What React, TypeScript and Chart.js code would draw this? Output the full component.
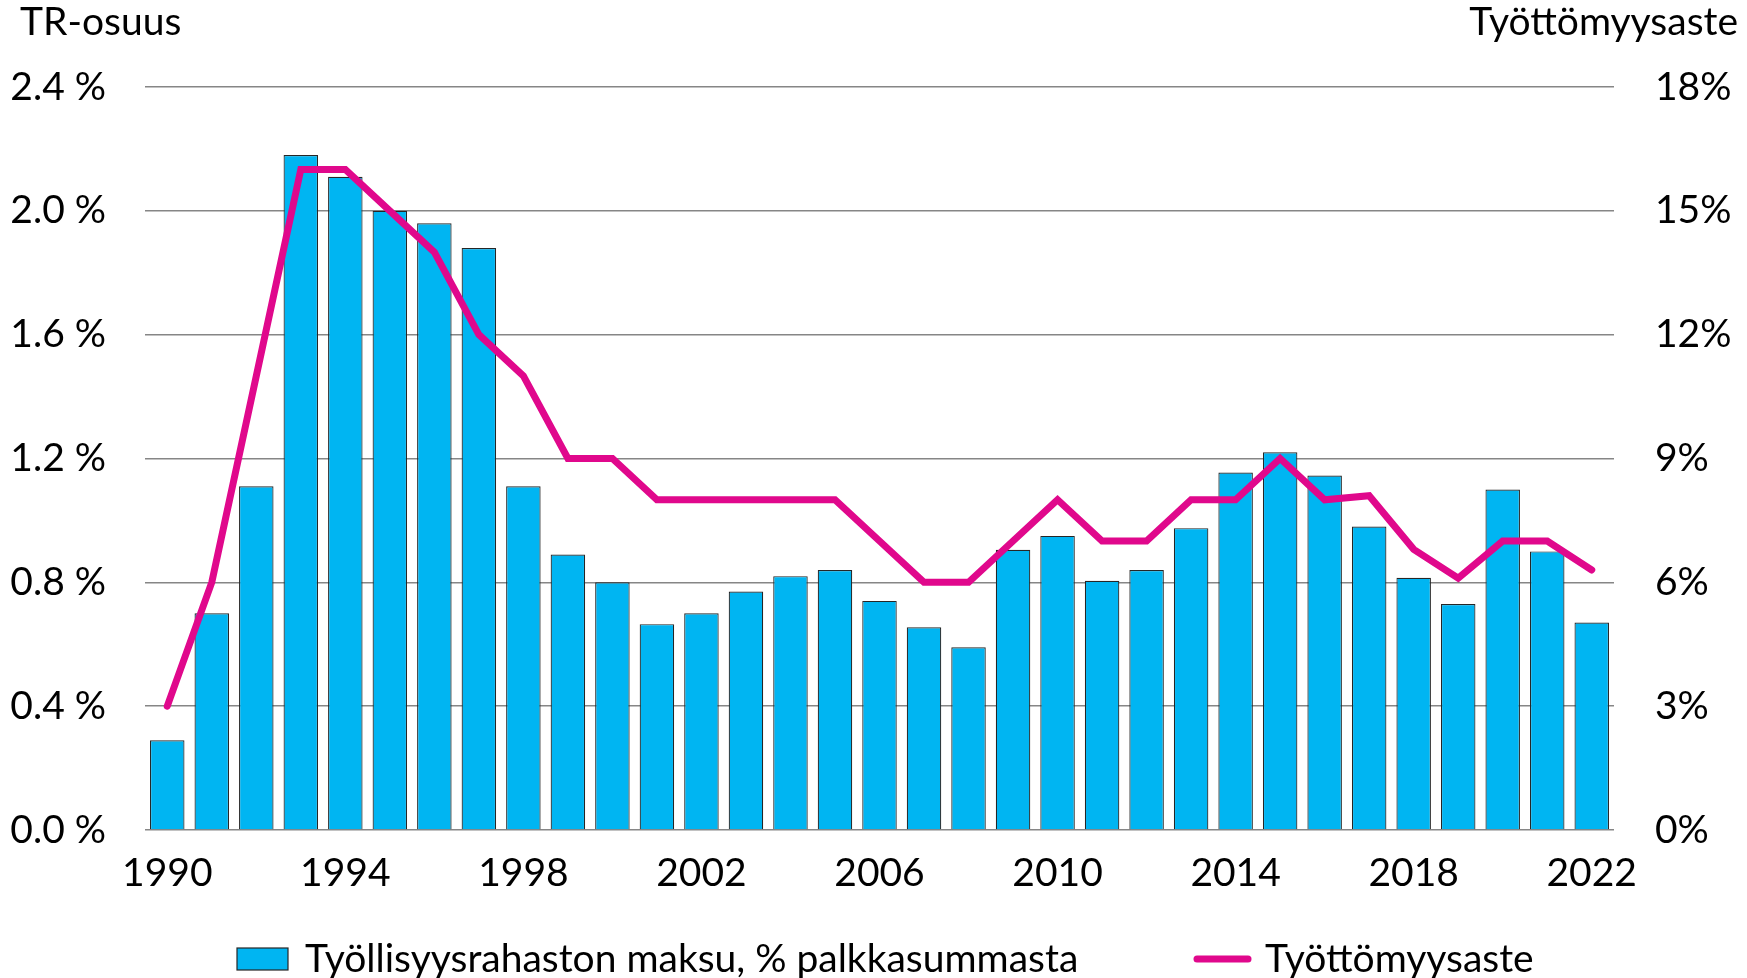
import React, { useEffect, useRef } from 'react';
import { Chart, registerables } from 'chart.js';

Chart.register(...registerables);

// ---- Data ----
const years = [
  1990, 1991, 1992, 1993, 1994, 1995, 1996, 1997, 1998, 1999, 2000,
  2001, 2002, 2003, 2004, 2005, 2006, 2007, 2008, 2009, 2010,
  2011, 2012, 2013, 2014, 2015, 2016, 2017, 2018, 2019, 2020, 2021, 2022,
];

// Työllisyysrahaston maksu, % palkkasummasta (left axis, %)
const trShare = [
  0.29, 0.70, 1.11, 2.18, 2.11, 2.00, 1.96, 1.88, 1.11, 0.89, 0.80,
  0.665, 0.70, 0.77, 0.82, 0.84, 0.74, 0.655, 0.59, 0.905, 0.95,
  0.805, 0.84, 0.975, 1.155, 1.22, 1.145, 0.98, 0.815, 0.73, 1.10, 0.90, 0.67,
];

// Työttömyysaste (right axis, %)
const unemployment = [
  3, 6, 11, 16, 16, 15, 14, 12, 11, 9, 9,
  8, 8, 8, 8, 8, 7, 6, 6, 7, 8,
  7, 7, 8, 8, 9, 8, 8.1, 6.8, 6.1, 7, 7, 6.3,
];

const barLabel = 'Työllisyysrahaston maksu, % palkkasummasta';
const lineLabel = 'Työttömyysaste';
const leftTitle = 'TR-osuus';
const rightTitle = 'Työttömyysaste';

const leftMax = 2.4;
const leftStep = 0.4;
const rightMax = 18;
const rightStep = 3;

// ---- Styles ----
const FONT_FAMILY = 'Lato';
const FS = 39;
const BAR_COLOR = '#00B5F2';
const BAR_BORDER = '#262626';
const LINE_COLOR = '#E0088C';
const GRID_COLOR = '#868686';
const TEXT_COLOR = '#000000';

const decorPlugin = {
  id: 'decor',
  afterDraw(chart: any) {
    const ctx = chart.ctx as CanvasRenderingContext2D;
    const ds = chart.data.datasets;
    ctx.save();
    ctx.font = `${FS}px ${FONT_FAMILY}`;
    ctx.fillStyle = TEXT_COLOR;
    ctx.textBaseline = 'alphabetic';
    // axis titles
    ctx.textAlign = 'left';
    ctx.fillText(leftTitle, 20, 35);
    ctx.textAlign = 'right';
    ctx.fillText(rightTitle, 1738, 35);

    // legend
    const baseY = 972;
    const midY = 959;
    // bar item
    ctx.fillStyle = ds[0].backgroundColor;
    ctx.fillRect(237, 948, 51, 22);
    ctx.strokeStyle = BAR_BORDER;
    ctx.lineWidth = 1.2;
    ctx.strokeRect(237, 948, 51, 22);
    ctx.fillStyle = TEXT_COLOR;
    ctx.textAlign = 'left';
    ctx.fillText(ds[0].label, 305, baseY);
    // line item
    ctx.beginPath();
    ctx.moveTo(1197, midY);
    ctx.lineTo(1248, midY);
    ctx.strokeStyle = ds[1].borderColor;
    ctx.lineWidth = 7;
    ctx.lineCap = 'round';
    ctx.stroke();
    ctx.fillStyle = TEXT_COLOR;
    ctx.fillText(ds[1].label, 1265, baseY);
    ctx.restore();
  },
};

export default function App() {
  const canvasRef = useRef<HTMLCanvasElement | null>(null);

  useEffect(() => {
    document.body.style.margin = '0';
    document.body.style.overflow = 'hidden';
    const canvas = canvasRef.current;
    if (!canvas) return;

    const chart = new Chart(canvas, {
      type: 'bar',
      data: {
        labels: years.map(String),
        datasets: [
          {
            type: 'bar',
            label: barLabel,
            data: trShare,
            backgroundColor: BAR_COLOR,
            borderColor: BAR_BORDER,
            borderWidth: 1.2,
            barPercentage: 0.775,
            categoryPercentage: 1,
            yAxisID: 'y',
            order: 2,
          },
          {
            type: 'line',
            label: lineLabel,
            data: unemployment,
            borderColor: LINE_COLOR,
            backgroundColor: LINE_COLOR,
            borderWidth: 7,
            pointRadius: 0,
            pointHoverRadius: 0,
            tension: 0,
            borderCapStyle: 'round',
            borderJoinStyle: 'miter',
            yAxisID: 'y1',
            order: 1,
          },
        ],
      },
      options: {
        responsive: false,
        animation: false,
        devicePixelRatio: 1,
        layout: { padding: { top: 87, left: 0, right: 0, bottom: 0 } },
        plugins: {
          legend: { display: false },
          tooltip: { enabled: false },
          title: { display: false },
        },
        font: { family: FONT_FAMILY, size: FS },
        scales: {
          x: {
            grid: { display: false, drawTicks: false },
            border: { display: false },
            ticks: {
              autoSkip: false,
              maxRotation: 0,
              minRotation: 0,
              padding: 20,
              color: TEXT_COLOR,
              font: { family: FONT_FAMILY, size: FS },
              callback: (_v: any, i: number) => (i % 4 === 0 ? String(years[i]) : ''),
            },
            afterFit: (s: any) => {
              s.height = 148;
            },
          },
          y: {
            position: 'left',
            min: 0,
            max: leftMax,
            grid: { color: GRID_COLOR, lineWidth: 1.6, drawTicks: false },
            border: { display: false },
            ticks: {
              stepSize: leftStep,
              padding: 39,
              color: TEXT_COLOR,
              font: { family: FONT_FAMILY, size: FS },
              callback: (v: any) => Number(v).toFixed(1) + ' %',
            },
            afterFit: (s: any) => {
              s.width = 145;
            },
          },
          y1: {
            position: 'right',
            min: 0,
            max: rightMax,
            grid: { display: false, drawTicks: false },
            border: { display: false },
            ticks: {
              stepSize: rightStep,
              padding: 41,
              color: TEXT_COLOR,
              font: { family: FONT_FAMILY, size: FS },
              callback: (v: any) => Math.round(Number(v)) + '%',
            },
            afterFit: (s: any) => {
              s.width = 133;
            },
          },
        },
      },
      plugins: [decorPlugin],
    } as any);

    return () => chart.destroy();
  }, []);

  return (
    <div style={{ width: 1747, height: 978, background: '#fff' }}>
      <canvas ref={canvasRef} width={1747} height={978} style={{ display: 'block' }} />
    </div>
  );
}
